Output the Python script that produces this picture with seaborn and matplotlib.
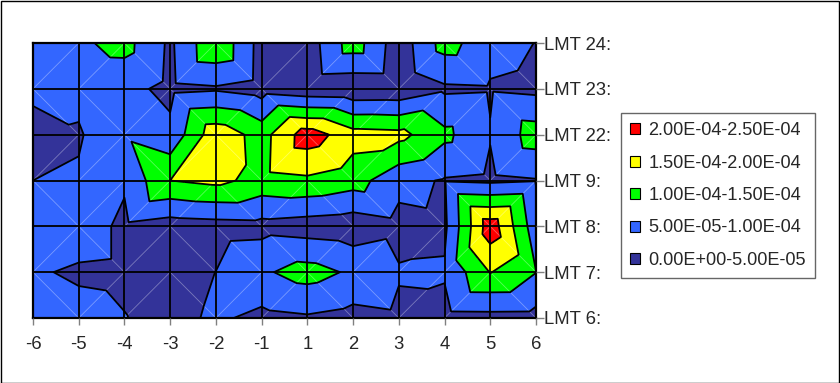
#!/usr/bin/env python3
# Excel style contour chart of values by LMT slot and offset
import numpy as np
import matplotlib
matplotlib.use('Agg')
import matplotlib.pyplot as plt
import matplotlib.tri as mtri
from matplotlib.patches import Patch, Rectangle
import seaborn as sns

x_labels = ['-6', '-5', '-4', '-3', '-2', '-1', '1', '2', '3', '4', '5', '6']
lmt_labels = ['LMT 6:', 'LMT 7:', 'LMT 8:', 'LMT 9:', 'LMT 22:', 'LMT 23:', 'LMT 24:']

# values in units of 1E-05, one list per LMT row
lmt6 = [7.0, 6.5, 5.17, 3.25, 5.9, 3.6, 4.4, 3.2, 4.07, 3.3, 3.4, 3.3]
lmt7 = [5.53, 4.35, 4.0, 2.5, 5.05, 9.26, 12.0, 9.2, 5.4, 5.54, 15.2, 10.1]
lmt8 = [5.05, 7.45, 4.0, 2.5, 3.0, 3.3, 2.54, 1.8, 3.4, 4.0, 23.0, 7.0]
lmt9 = [5.0, 5.56, 5.6, 15.0, 16.3, 13.3, 14.1, 12.2, 6.5, 4.6, 4.0, 4.7]
lmt22 = [2.0, 4.5, 9.1, 6.25, 18.3, 13.0, 22.7, 17.0, 16.5, 11.2, 5.3, 12.5]
lmt23 = [6.8, 6.3, 6.5, 3.7, 4.4, 2.8, 1.4, 1.0, 1.15, 4.2, 4.5, 3.8]
lmt24 = [8.0, 9.1, 11.7, 4.1, 14.4, 3.0, 2.2, 12.6, 2.0, 12.0, 6.8, 4.9]

levels = [0, 5e-5, 1e-4, 1.5e-4, 2e-4, 2.5e-4]
band_labels = ['0.00E+00-5.00E-05', '5.00E-05-1.00E-04', '1.00E-04-1.50E-04',
               '1.50E-04-2.00E-04', '2.00E-04-2.50E-04']
band_colors = sns.color_palette(['#333399', '#3366FF', '#00FF00', '#FFFF00', '#FF0000'])

sns.set_theme(style='white')
plt.rcParams['font.family'] = ['Liberation Sans', 'DejaVu Sans']

z_grid = np.array([lmt6, lmt7, lmt8, lmt9, lmt22, lmt23, lmt24]) * 1e-5
ny, nx = z_grid.shape
gx, gy = np.meshgrid(np.arange(nx), np.arange(ny))
z = z_grid.ravel()

# split each cell along the diagonal with the larger sum, like Excel does
tris = []
diags = []
for j in range(ny - 1):
    for i in range(nx - 1):
        a = j * nx + i
        b = a + 1
        c = a + nx
        d = c + 1
        if z[a] + z[d] >= z[b] + z[c]:
            tris += [[a, b, d], [a, d, c]]
            diags.append(([i, i + 1], [j, j + 1]))
        else:
            tris += [[a, b, c], [b, d, c]]
            diags.append(([i, i + 1], [j + 1, j]))
triang = mtri.Triangulation(gx.ravel(), gy.ravel(), np.array(tris))

fig = plt.figure(figsize=(8.4, 3.83), dpi=100)
ax = fig.add_axes([33 / 840, 65 / 383, 503 / 840, 275 / 383])

ax.tricontourf(triang, z, levels=levels, colors=band_colors, zorder=1)
for xs, ys in diags:
    ax.plot(xs, ys, color='white', alpha=0.35, lw=0.6, zorder=1.5)
ax.tricontour(triang, z, levels=levels[1:-1], colors='black', linewidths=1.3, zorder=2)

ax.set_xlim(0, nx - 1)
ax.set_ylim(0, ny - 1)
ax.set_xticks(range(nx))
ax.set_xticklabels(x_labels)
ax.set_yticks(range(ny))
ax.set_yticklabels(lmt_labels)
ax.yaxis.tick_right()
ax.set_axisbelow(False)
ax.grid(True, color='black', lw=1.3)
ax.tick_params(axis='x', bottom=True, length=5, width=1, color='#808080', pad=8, labelsize=13.3)
ax.tick_params(axis='y', right=True, left=False, length=6, width=1, color='#808080', pad=0, labelsize=13.3)
for s in ax.spines.values():
    s.set_color('black')
    s.set_linewidth(1.6)

handles = [Patch(facecolor=c, edgecolor='black', lw=0.8) for c in band_colors]
leg = fig.legend(handles[::-1], band_labels[::-1], loc='upper left',
                 bbox_to_anchor=(621 / 840, 1 - 113 / 383), fontsize=13.1,
                 frameon=True, fancybox=False, edgecolor='#404040',
                 handlelength=0.55, handleheight=0.55, handletextpad=0.45,
                 labelspacing=0.85, borderpad=0.5, borderaxespad=0)
leg.get_frame().set_linewidth(1)

fig.patches.append(Rectangle((0.5 / 840, 0.5 / 383), 838.5 / 840, 381.5 / 383,
                             transform=fig.transFigure, fill=False,
                             edgecolor='black', lw=1))

fig.savefig('out.png', dpi=100)
